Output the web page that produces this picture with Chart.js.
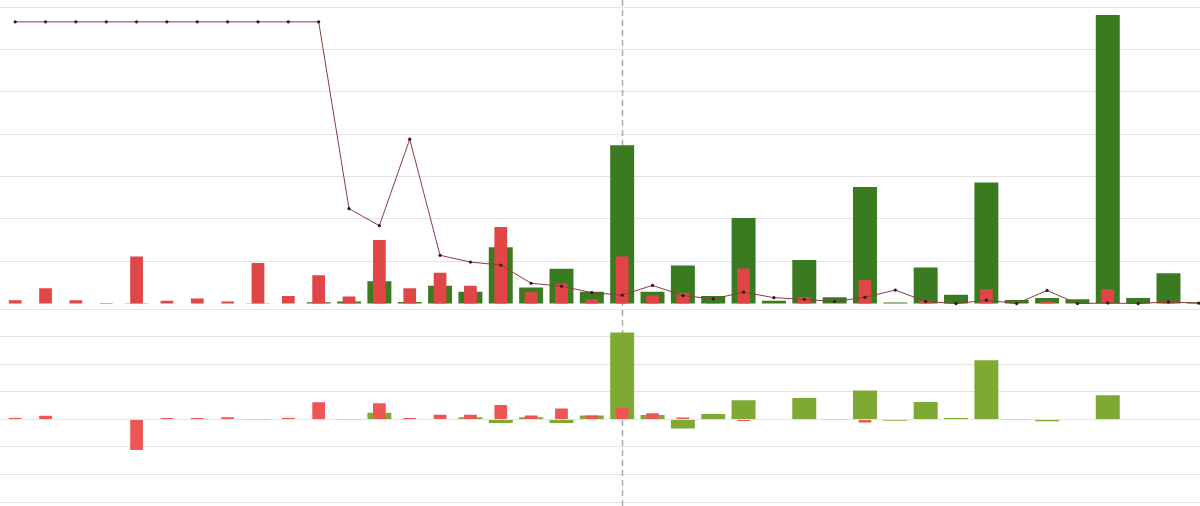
<!DOCTYPE html>
<html>
<head>
<meta charset="utf-8">
<script src="https://cdn.jsdelivr.net/npm/chart.js@4/dist/chart.umd.min.js"></script>
<style>
  html, body { margin: 0; padding: 0; background: #fff; overflow: hidden; }
  #wrap { position: relative; left: -4px; width: 1222px; height: 506px; }
</style>
</head>
<body>
<div id="wrap"><canvas id="mainChart"></canvas></div>
<script>

const labels = ['1', '2', '3', '4', '5', '6', '7', '8', '9', '10',
    '11', '12', '13', '14', '15', '16', '17', '18', '19', '20',
    '21', '22', '23', '24', '25', '26', '27', '28', '29', '30',
    '31', '32', '33', '34', '35', '36', '37', '38', '39', '40'];

// upper panel
const lineValues = [665, 665, 665, 665, 665, 665, 665, 665, 665, 665,
    665, 224, 184, 388, 114, 98, 91, 48, 41, 26,
    20, 43, 19, 11, 27, 14, 10, 5, 15, 32,
    5, 0, 8, 0, 31, 0, 1.5, 0, 4, 1];
const redTop = [8, 36, 8, 1.5, 111, 7, 12, 5, 96, 18,
    67, 16.5, 150, 36, 73, 42, 181, 27, 47, 10,
    111, 19, 25, 1.5, 83, 0, 15.6, 0, 56, 0,
    7, 0, 34, 0, 5, 0, 34, 0, 3, 0];
const greenTop = [0, 0, 0, 0, 0.8, 0, 0, 0, 0.8, 0,
    3, 5, 53, 4, 42, 28, 133, 38, 82, 28,
    374, 28, 90, 18, 202, 7, 103, 15, 275, 2.4,
    85, 21, 286, 8.5, 13, 10, 681, 13, 71.5, 3];

// lower panel
const redBottom = [5, 13, -2.5, 0, -111, 5, 5, 8, 0, 5,
    62, 0, 59, 5, 17, 17, 52, 14, 40, 14,
    42, 22, 7, 0, -6, 0, 0, 0, -11, 0,
    0, 0, 0, 0, 0, 0, -2, 0, 0, 0];
const greenBottom = [0, 0, 0, 0, 0, 0, 0, 0, 1, 0,
    0, 1, 24, 1.5, 0, 8, -13, 8, -13, 14,
    316, 16, -33, 20, 70, 0, 78, 1, 105, -5,
    63, 5, 215, 1, -7, 0, 88, 0, 0, 0];

const markerIndex = 20;

const markerLine = {
    id: 'markerLine',
    beforeDatasetsDraw(chart) {
        const c = chart.ctx;
        const x = Math.round(chart.scales.x.getPixelForValue(markerIndex)) + 0.5;
        c.save();
        c.strokeStyle = '#aaaaaa';
        c.lineWidth = 1.5;
        c.setLineDash([6, 4]);
        c.beginPath();
        c.moveTo(x, 0);
        c.lineTo(x, chart.height);
        c.stroke();
        c.restore();
    }
};

const hiddenAxis = {
    border: { display: false },
    grid: { color: '#e3e3e3', drawTicks: false },
    afterFit: s => { s.width = 0; }
};

const ctx = document.getElementById('mainChart').getContext('2d');

new Chart(ctx, {
    type: 'bar',
    data: {
        labels: labels,
        datasets: [{
            type: 'line',
            data: lineValues,
            yAxisID: 'yTop',
            borderColor: '#8e3b3b',
            borderWidth: 1,
            tension: 0,
            pointRadius: 1.6,
            pointBorderWidth: 0,
            pointBackgroundColor: '#3a1414',
            order: 0
        }, {
            data: redTop,
            yAxisID: 'yTop',
            backgroundColor: '#e04646',
            grouped: false,
            categoryPercentage: 1,
            barPercentage: 0.42,
            order: 1
        }, {
            data: greenTop,
            yAxisID: 'yTop',
            backgroundColor: '#3a7b22',
            grouped: false,
            categoryPercentage: 1,
            barPercentage: 0.79,
            order: 2
        }, {
            data: redBottom,
            yAxisID: 'yBot',
            backgroundColor: '#ee5656',
            grouped: false,
            categoryPercentage: 1,
            barPercentage: 0.42,
            order: 1
        }, {
            data: greenBottom,
            yAxisID: 'yBot',
            backgroundColor: '#7eaa34',
            grouped: false,
            categoryPercentage: 1,
            barPercentage: 0.79,
            order: 2
        }]
    },
    options: {
        responsive: true,
        maintainAspectRatio: false,
        animation: false,
        layout: { padding: { top: 7, bottom: 2, left: 0, right: 0 } },
        plugins: {
            legend: { display: false },
            tooltip: { enabled: false }
        },
        scales: {
            x: {
                display: false,
                offset: true,
                grid: { display: false }
            },
            yBot: {
                ...hiddenAxis,
                position: 'left',
                stack: 'panels',
                stackWeight: 193.5,
                min: -300,
                max: 400,
                ticks: { display: false, stepSize: 100 }
            },
            yTop: {
                ...hiddenAxis,
                position: 'left',
                stack: 'panels',
                stackWeight: 303.5,
                min: -13.4,
                max: 700,
                ticks: { display: false, stepSize: 100 },
                afterBuildTicks: s => { s.ticks = s.ticks.filter(t => t.value >= 0); }
            }
        }
    },
    plugins: [markerLine]
});

</script>
</body>
</html>
